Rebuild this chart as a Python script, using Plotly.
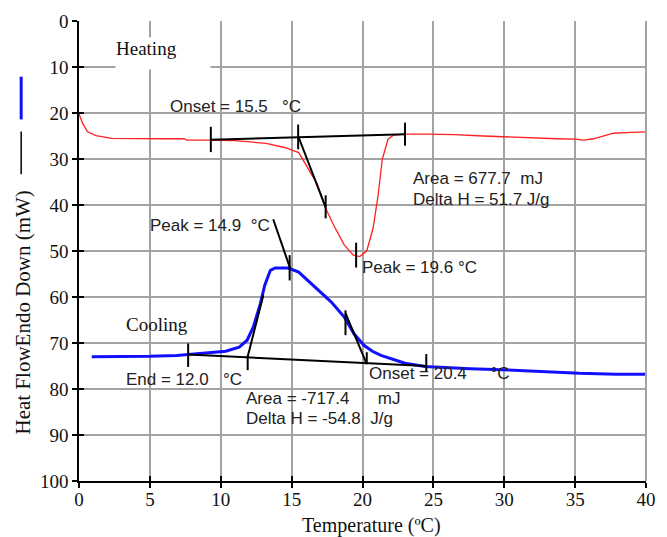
import plotly.graph_objects as go

# ---------------- data ----------------
heat_t = [0.0, 0.25, 0.6, 1.2, 2.3, 4.0, 6.0, 7.4, 7.6, 9.1, 11.0, 13.2, 14.5, 15.5,
          16.15, 16.8, 17.4, 17.95, 18.7, 19.35, 19.8, 20.3, 20.75, 21.1, 21.4, 21.8,
          22.2, 23.0, 24.5, 26.5, 28.5, 30.7, 32.5, 33.7, 35.0, 35.6, 36.3, 37.0,
          37.7, 39.0, 40.0]
heat_hf = [20.2, 22.2, 24.1, 24.9, 25.5, 25.6, 25.6, 25.6, 25.9, 25.9, 26.0, 26.6,
           27.5, 28.6, 32.1, 35.4, 40.7, 44.3, 48.6, 50.9, 51.2, 50.0, 45.0, 37.9,
           30.0, 25.7, 24.8, 24.6, 24.6, 24.7, 25.0, 25.3, 25.5, 25.6, 25.7, 25.9,
           25.6, 25.0, 24.4, 24.2, 24.1]

cool_t = [0.9, 3.0, 5.0, 6.9, 8.7, 10.35, 11.3, 11.86, 12.3, 12.8, 13.1, 13.5, 13.84,
          14.77, 15.5, 16.6, 17.8, 18.7, 19.4, 20.1, 20.7, 21.3, 22.3, 23.0, 24.4,
          26.0, 27.6, 29.8, 32.6, 35.3, 37.9, 40.0]
cool_hf = [73.0, 73.0, 72.9, 72.7, 72.3, 71.8, 70.9, 69.4, 66.5, 61.4, 57.5, 54.2,
           53.7, 53.7, 54.6, 57.8, 61.1, 64.3, 68.0, 70.5, 71.8, 72.7, 73.8, 74.4,
           75.1, 75.4, 75.6, 75.8, 76.2, 76.6, 76.8, 76.8]

# analysis construction lines (baseline, tangents) as segments
heat_lines = [
    ([9.3, 23.0], [25.8, 24.6]),      # baseline
    ([15.46, 17.4], [25.0, 40.5]),    # onset tangent
]
heat_ticks = [  # (x, y_start, y_end)
    (9.3, 23.0, 28.5), (15.46, 22.5, 27.9), (23.0, 22.1, 27.1),
    (17.4, 37.9, 42.9), (19.55, 48.2, 53.6),
]
cool_lines = [
    ([7.7, 24.5], [72.5, 75.0]),      # baseline
    ([11.9, 13.0], [73.0, 59.6]),     # rising tangent
    ([13.7, 14.9], [43.1, 53.8]),     # peak tangent
    ([18.8, 20.3], [63.5, 74.6]),     # onset tangent
]
cool_ticks = [
    (7.7, 70.1, 75.2), (11.9, 72.7, 75.9), (24.5, 72.4, 76.2),
    (14.86, 50.9, 56.4), (18.8, 62.9, 68.3), (20.3, 72.0, 74.6),
]

x_ticks = [0, 5, 10, 15, 20, 25, 30, 35, 40]
y_ticks = [0, 10, 20, 30, 40, 50, 60, 70, 80, 90, 100]

NB = "\u00a0"
labels = [  # (text, x, y)
    ("Onset = 15.5" + NB * 3 + "°C", 6.26, 18.5),
    ("Area = 677.7" + NB * 2 + "mJ", 23.4, 34.2),
    ("Delta H = 51.7 J/g", 23.4, 38.7),
    ("Peak = 19.6 °C", 19.8, 53.6),
    ("Peak = 14.9" + NB * 2 + "°C", 4.9, 44.5),
    ("End = 12.0" + NB * 3 + "°C", 3.16, 78.0),
    ("Area = -717.4" + NB * 6 + "mJ", 11.67, 82.0),
    ("Delta H = -54.8" + NB * 2 + "J/g", 11.67, 86.5),
    ("Onset = 20.4" + NB * 5 + "°C", 20.35, 76.6),
]

SANS = "Liberation Sans, Arial, sans-serif"
SERIF = "Liberation Serif, Times New Roman, serif"


def seg_xy(lines, ticks):
    xs, ys = [], []
    for lx, ly in lines:
        xs += list(lx) + [None]
        ys += list(ly) + [None]
    for tx, y0, y1 in ticks:
        xs += [tx, tx, None]
        ys += [y0, y1, None]
    return xs, ys


fig = go.Figure()
fig.add_trace(go.Scatter(x=heat_t, y=heat_hf, mode="lines",
                         line=dict(color="#ff2020", width=1.3), showlegend=False))
fig.add_trace(go.Scatter(x=cool_t, y=cool_hf, mode="lines",
                         line=dict(color="#1010ff", width=3), showlegend=False))
hx, hy = seg_xy(heat_lines, heat_ticks)
cx, cy = seg_xy(cool_lines, cool_ticks)
fig.add_trace(go.Scatter(x=hx + cx, y=hy + cy, mode="lines",
                         line=dict(color="black", width=2), showlegend=False))
# dummy trace for the inner-tick overlay axes
fig.add_trace(go.Scatter(x=[None], y=[None], xaxis="x2", yaxis="y2",
                         showlegend=False, hoverinfo="skip"))

annotations = []
for txt, x, y in labels:
    annotations.append(dict(text=txt, x=x, y=y, xref="x", yref="y",
                            xanchor="left", yanchor="middle", showarrow=False,
                            font=dict(family=SANS, size=17, color="#222")))

annotations.append(dict(text="Heating", x=5.96, y=7.03, xref="x", yref="y",
                        xanchor="center", yanchor="middle", showarrow=False,
                        width=94, height=31, align="left", valign="top",
                        bgcolor="white", borderpad=0,
                        font=dict(family=SERIF, size=19, color="#111")))
annotations.append(dict(text="Cooling", x=3.16, y=65.9, xref="x", yref="y",
                        xanchor="left", yanchor="middle", showarrow=False,
                        font=dict(family=SERIF, size=19, color="#111")))
annotations.append(dict(text="Heat FlowEndo Down (mW)", x=-0.099, y=0.366,
                        xref="paper", yref="paper", textangle=-90,
                        xanchor="center", yanchor="middle", showarrow=False,
                        font=dict(family=SERIF, size=21, color="#111")))
annotations.append(dict(text="Temperature (ºC)", x=0.516, y=-0.097,
                        xref="paper", yref="paper",
                        xanchor="center", yanchor="middle", showarrow=False,
                        font=dict(family=SERIF, size=20, color="#111")))

shapes = [
    dict(type="line", xref="paper", yref="paper", x0=-0.102, x1=-0.102,
         y0=0.786, y1=0.879, line=dict(color="#1010ff", width=3)),
    dict(type="line", xref="paper", yref="paper", x0=-0.102, x1=-0.102,
         y0=0.667, y1=0.760, line=dict(color="black", width=1.5)),
]

GRID = "#a3a3a3"
fig.update_layout(
    width=667, height=537,
    margin=dict(l=79, r=11, t=19, b=56),
    paper_bgcolor="white", plot_bgcolor="white",
    annotations=annotations, shapes=shapes,
    xaxis=dict(range=[0, 40], tickvals=x_ticks, showgrid=True, gridcolor=GRID,
               gridwidth=1.5, showline=True, linecolor="black", linewidth=1.5,
               ticks="outside", ticklen=5, tickwidth=1.5, tickcolor="black",
               zeroline=False, mirror=False, ticklabelstandoff=-5,
               tickfont=dict(family=SERIF, size=19, color="#111")),
    yaxis=dict(range=[100, 0], tickvals=y_ticks, showgrid=True, gridcolor=GRID,
               gridwidth=1.5, showline=True, linecolor="black", linewidth=1.5,
               ticks="outside", ticklen=5, tickwidth=1.5, tickcolor="black",
               zeroline=False,
               tickfont=dict(family=SERIF, size=19, color="#111")),
    xaxis2=dict(range=[0, 40], tickvals=x_ticks, overlaying="x", showgrid=False,
                showline=False, ticks="inside", ticklen=5, tickwidth=1.5,
                tickcolor="black", showticklabels=False, zeroline=False),
    yaxis2=dict(range=[100, 0], tickvals=y_ticks, overlaying="y", showgrid=False,
                showline=False, ticks="inside", ticklen=5, tickwidth=1.5,
                tickcolor="black", showticklabels=False, zeroline=False),
)

# right border in grid grey
fig.add_shape(type="line", xref="paper", yref="paper", x0=1, x1=1, y0=0, y1=1,
              line=dict(color=GRID, width=2))

fig.write_html("out.html")
